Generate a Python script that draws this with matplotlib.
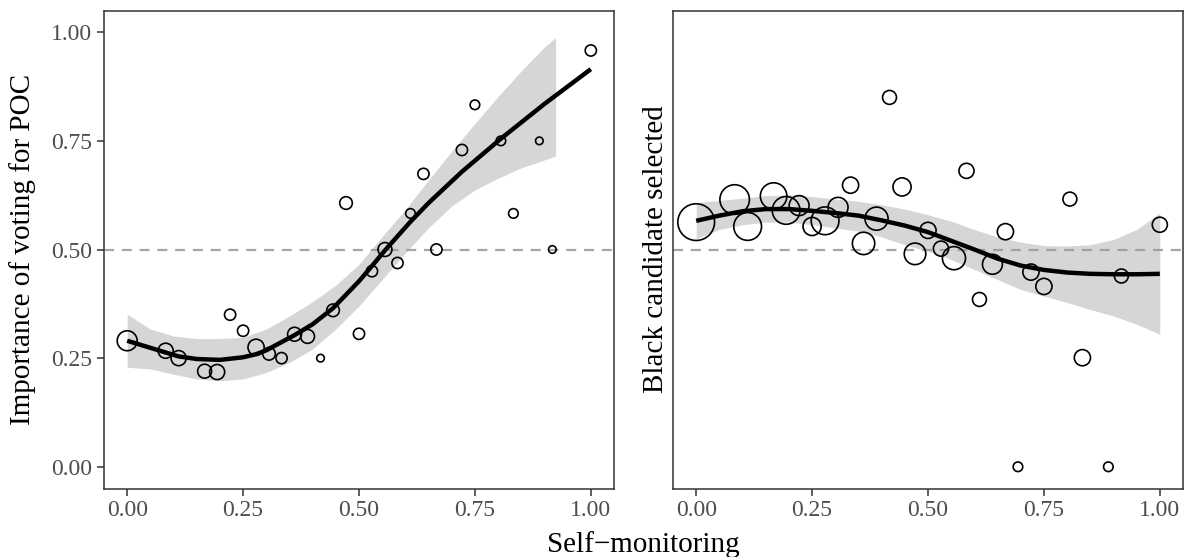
import matplotlib
matplotlib.use("Agg")
import matplotlib.pyplot as plt
import numpy as np

# self-monitoring score (x), mean outcome (y), respondents per score (n)
poc_x = [0.000, 0.083, 0.111, 0.167, 0.194, 0.222, 0.250, 0.278, 0.306, 0.333,
         0.361, 0.389, 0.417, 0.444, 0.472, 0.500, 0.528, 0.556, 0.583, 0.611,
         0.639, 0.667, 0.722, 0.750, 0.806, 0.833, 0.889, 0.917, 1.000]
poc_y = [0.290, 0.267, 0.250, 0.220, 0.218, 0.350, 0.313, 0.275, 0.260, 0.250,
         0.305, 0.300, 0.250, 0.360, 0.607, 0.306, 0.450, 0.500, 0.469, 0.583,
         0.674, 0.500, 0.729, 0.833, 0.750, 0.583, 0.750, 0.500, 0.958]
poc_n = [11, 6, 6, 5, 6, 3, 3, 7, 4, 3,
         5, 5, 1, 4, 4, 3, 3, 5, 3, 2,
         3, 3, 3, 2, 2, 2, 1, 1, 3]

black_x = [0.000, 0.083, 0.111, 0.167, 0.194, 0.222, 0.250, 0.278, 0.306, 0.333,
           0.361, 0.389, 0.417, 0.444, 0.472, 0.500, 0.528, 0.556, 0.583, 0.611,
           0.639, 0.667, 0.694, 0.722, 0.750, 0.806, 0.833, 0.889, 0.917, 1.000]
black_y = [0.563, 0.615, 0.553, 0.623, 0.590, 0.601, 0.553, 0.566, 0.597, 0.648,
           0.514, 0.571, 0.850, 0.644, 0.490, 0.544, 0.502, 0.480, 0.681, 0.385,
           0.466, 0.541, 0.000, 0.448, 0.415, 0.616, 0.251, 0.000, 0.439, 0.557]
black_n = [39, 25, 22, 20, 22, 11, 9, 22, 11, 7,
           14, 15, 5, 9, 13, 7, 6, 15, 6, 5,
           11, 7, 2, 7, 7, 5, 7, 2, 5, 6]

# smoother (fit and 95% band)
poc_fit_x = [0.000, 0.083, 0.111, 0.150, 0.200, 0.250, 0.278, 0.300, 0.361, 0.400,
             0.444, 0.500, 0.528, 0.556, 0.611, 0.650, 0.722, 0.806, 0.900, 1.000]
poc_fit = [0.290, 0.263, 0.254, 0.248, 0.246, 0.252, 0.259, 0.268, 0.303, 0.328,
           0.365, 0.427, 0.462, 0.498, 0.564, 0.607, 0.679, 0.755, 0.835, 0.915]
poc_band_x = [0.00, 0.05, 0.10, 0.15, 0.20, 0.25, 0.30, 0.35, 0.40, 0.45,
              0.50, 0.55, 0.60, 0.65, 0.70, 0.75, 0.80, 0.85, 0.90, 0.924]
poc_lo = [0.229, 0.225, 0.213, 0.202, 0.198, 0.202, 0.217, 0.240, 0.271, 0.317,
          0.370, 0.431, 0.492, 0.550, 0.600, 0.637, 0.664, 0.688, 0.706, 0.715]
poc_hi = [0.351, 0.317, 0.301, 0.295, 0.295, 0.298, 0.317, 0.347, 0.380, 0.418,
          0.466, 0.530, 0.592, 0.660, 0.726, 0.790, 0.852, 0.911, 0.966, 0.988]

black_band_x = [0.00, 0.05, 0.10, 0.15, 0.20, 0.25, 0.30, 0.35, 0.40, 0.45, 0.50,
                0.55, 0.60, 0.65, 0.70, 0.75, 0.80, 0.85, 0.90, 0.95, 1.00]
black_fit = [0.566, 0.578, 0.588, 0.593, 0.593, 0.589, 0.584, 0.578, 0.567, 0.555, 0.540,
             0.520, 0.500, 0.479, 0.463, 0.453, 0.447, 0.444, 0.443, 0.443, 0.444]
black_lo = [0.525, 0.546, 0.557, 0.563, 0.563, 0.557, 0.550, 0.542, 0.529, 0.511, 0.496,
            0.477, 0.454, 0.431, 0.408, 0.393, 0.378, 0.362, 0.347, 0.328, 0.305]
black_hi = [0.608, 0.613, 0.618, 0.624, 0.626, 0.622, 0.616, 0.611, 0.603, 0.593, 0.580,
            0.565, 0.546, 0.529, 0.517, 0.509, 0.508, 0.511, 0.523, 0.546, 0.584]

plt.rcParams['font.family'] = ['Liberation Serif', 'DejaVu Serif']


def point_size(n):
    return 12.4 + 17.6 * np.asarray(n, dtype=float)


fig = plt.figure(figsize=(11.84, 5.57), dpi=100)
ax1 = fig.add_axes([104 / 1184, 68.5 / 557, 510 / 1184, 478 / 557])
ax2 = fig.add_axes([673 / 1184, 68.5 / 557, 510 / 1184, 478 / 557])

panels = [
    (ax1, poc_x, poc_y, poc_n, poc_fit_x, poc_fit, poc_band_x, poc_lo, poc_hi,
     "Importance of voting for POC"),
    (ax2, black_x, black_y, black_n, black_band_x, black_fit, black_band_x,
     black_lo, black_hi, "Black candidate selected"),
]

for ax, x, y, n, fx, fy, bx, lo, hi, ylabel in panels:
    ax.axhline(0.5, color="#A6A6A6", lw=1.6, ls=(0, (4.5, 3.5)), zorder=1)
    ax.fill_between(bx, lo, hi, color="#999999", alpha=0.4, lw=0, zorder=2)
    ax.plot(fx, fy, color="black", lw=3.2, zorder=3, solid_capstyle="butt",
            solid_joinstyle="round")
    ax.scatter(x, y, s=point_size(n), facecolors="none", edgecolors="black",
               linewidths=1.2, zorder=4)

    ax.set_xlim(-0.05, 1.05)
    ax.set_ylim(-0.05, 1.05)
    ax.set_xticks([0, 0.25, 0.5, 0.75, 1.0])
    ax.set_xticklabels(["0.00", "0.25", "0.50", "0.75", "1.00"])
    for side in ax.spines.values():
        side.set_color("#333333")
        side.set_linewidth(1.1)
    ax.tick_params(colors="#333333", labelcolor="#4D4D4D", labelsize=17,
                   length=5, width=1.1)
    ax.set_ylabel(ylabel, fontsize=21)

ax1.set_yticks([0, 0.25, 0.5, 0.75, 1.0])
ax1.set_yticklabels(["0.00", "0.25", "0.50", "0.75", "1.00"])
ax1.yaxis.set_label_coords(-0.133, 0.5)
ax2.set_yticks([])
ax2.yaxis.set_label_coords(-0.008, 0.5)

fig.text(643 / 1184, 12 / 557, "Self\u2212monitoring", fontsize=21,
         ha="center", va="center")

fig.savefig("out.png", dpi=100)
